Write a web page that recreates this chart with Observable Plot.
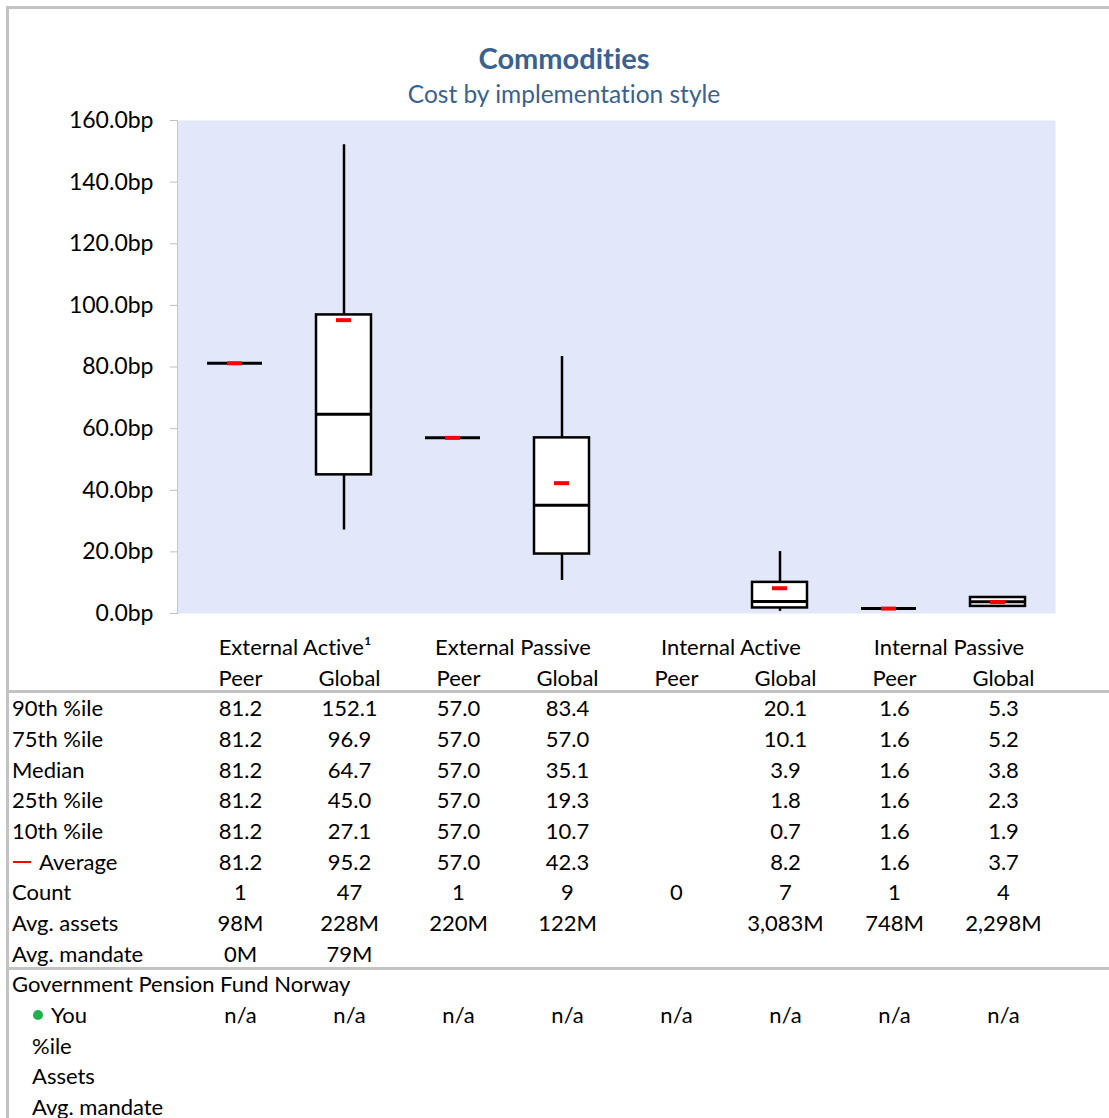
<!DOCTYPE html>
<html>
<head>
<meta charset="utf-8">
<script src="https://cdn.jsdelivr.net/npm/d3@7"></script>
<script src="https://cdn.jsdelivr.net/npm/@observablehq/plot@0.6"></script>
<style>
  html, body { margin: 0; padding: 0; background: #fff; }
  body { width: 1109px; height: 1118px; position: relative; overflow: hidden; font-family: Lato, "Open Sans", sans-serif; color: #000; font-variant-ligatures: none; }
  .border { position: absolute; left: 6px; top: 6px; width: 1200px; height: 1200px; border-left: 3px solid #c3c3c3; border-top: 3px solid #c3c3c3; }
  .hline { position: absolute; left: 9px; width: 1100px; height: 3px; background: #c3c3c3; }
  .t { position: absolute; white-space: nowrap; transform: translate(-50%, -50%); font-size: 22px; line-height: 26px; }
  .l { position: absolute; white-space: nowrap; transform: translate(0, -50%); font-size: 22px; line-height: 26px; }
  #title { position: absolute; left: 564px; top: 57px; transform: translate(-50%, -50%); font-size: 29px; font-weight: bold; color: #3a6190; white-space: nowrap; }
  #subtitle { position: absolute; left: 564px; top: 93px; transform: translate(-50%, -50%); font-size: 24.5px; color: #3a6190; white-space: nowrap; }
  #chart { position: absolute; left: 0; top: 0; }
  #table { position: absolute; left: 0; top: 0; }
</style>
</head>
<body>
<div class="border"></div>
<div id="title">Commodities</div>
<div id="subtitle">Cost by implementation style</div>
<div id="chart"></div>
<div id="table"></div>
<script>
// ---- data ----
const groups = ["External Active¹", "External Passive", "Internal Active", "Internal Passive"];
const subgroups = ["Peer", "Global"];
const categories = ["EA Peer", "EA Global", "EP Peer", "EP Global", "IA Peer", "IA Global", "IP Peer", "IP Global"];
const p90    = [81.2, 152.1, 57.0, 83.4, null, 20.1, 1.6, 5.3];
const p75    = [81.2, 96.9, 57.0, 57.0, null, 10.1, 1.6, 5.2];
const median = [81.2, 64.7, 57.0, 35.1, null, 3.9, 1.6, 3.8];
const p25    = [81.2, 45.0, 57.0, 19.3, null, 1.8, 1.6, 2.3];
const p10    = [81.2, 27.1, 57.0, 10.7, null, 0.7, 1.6, 1.9];
const average= [81.2, 95.2, 57.0, 42.3, null, 8.2, 1.6, 3.7];
const count  = ["1", "47", "1", "9", "0", "7", "1", "4"];
const avgAssets  = ["98M", "228M", "220M", "122M", "", "3,083M", "748M", "2,298M"];
const avgMandate = ["0M", "79M", "", "", "", "", "", ""];
const youValues  = ["n/a", "n/a", "n/a", "n/a", "n/a", "n/a", "n/a", "n/a"];
const yTicks = [0, 20, 40, 60, 80, 100, 120, 140, 160];
const fundName = "Government Pension Fund Norway";

const rows = categories.map((c, i) => ({
  cat: c, p90: p90[i], p75: p75[i], median: median[i], p25: p25[i], p10: p10[i], avg: average[i]
}));

const fmt = v => v == null ? "" : v.toFixed(1);

const plot = Plot.plot({
  width: 1109,
  height: 630,
  marginTop: 120,
  marginBottom: 17,
  marginLeft: 177,
  marginRight: 54,
  style: { fontFamily: "Lato, 'Open Sans', sans-serif", fontSize: "23px", color: "#000", background: "transparent", overflow: "visible" },
  x: { type: "band", domain: categories, padding: 0, axis: null },
  y: { domain: [0, 160], label: null, axis: null },
  marks: [
    Plot.frame({ fill: "#e2e8fa", stroke: null }),
    Plot.frame({ anchor: "left", stroke: "#c8c8c8" }),
    Plot.axisY({ ticks: yTicks, tickSize: 7, tickPadding: 17, stroke: "#bfbfbf", fill: "#000", fontSize: 23,
                 tickFormat: d => d.toFixed(1) + "bp", label: null }),
    Plot.ruleX(rows, { x: "cat", y1: "p10", y2: "p90", stroke: "#000", strokeWidth: 2.5 }),
    Plot.barY(rows, { x: "cat", y1: "p25", y2: "p75", fill: "#fff", stroke: "#000", strokeWidth: 2.5, insetLeft: 27, insetRight: 27 }),
    Plot.tickY(rows, { x: "cat", y: "median", stroke: "#000", strokeWidth: 3, insetLeft: 27, insetRight: 27 }),
    Plot.tickY(rows, { x: "cat", y: "avg", stroke: "#ff0000", strokeWidth: 4, insetLeft: 47, insetRight: 47 })
  ]
});
document.getElementById("chart").appendChild(plot);

// column centres from the plot's x scale
const xs = plot.scale("x");
const colX = categories.map((c, i) => {
  if (xs.apply) return xs.apply(c) + xs.bandwidth / 2 + 6;
  const [r0, r1] = xs.range; const bw = (r1 - r0) / categories.length;
  return r0 + bw * (i + 0.5) + 6;
});

const table = document.getElementById("table");
const rowY = i => 647 + i * 30.67;
function addText(cls, x, y, txt) {
  const d = document.createElement("div");
  d.className = cls;
  d.style.left = x + "px";
  d.style.top = y + "px";
  d.textContent = txt;
  table.appendChild(d);
  return d;
}
// headers
groups.forEach((g, gi) => addText("t", (colX[gi * 2] + colX[gi * 2 + 1]) / 2, rowY(0), g));
categories.forEach((c, i) => addText("t", colX[i], rowY(1), subgroups[i % 2]));

// separator lines
[690, 967].forEach(y => {
  const d = document.createElement("div"); d.className = "hline"; d.style.top = y + "px"; table.appendChild(d);
});

const statRows = [
  ["90th %ile", p90.map(fmt)],
  ["75th %ile", p75.map(fmt)],
  ["Median", median.map(fmt)],
  ["25th %ile", p25.map(fmt)],
  ["10th %ile", p10.map(fmt)],
  ["Average", average.map(fmt)],
  ["Count", count],
  ["Avg. assets", avgAssets],
  ["Avg. mandate", avgMandate]
];
statRows.forEach(([label, vals], r) => {
  const y = rowY(2 + r);
  if (label === "Average") {
    const dash = document.createElement("div");
    Object.assign(dash.style, { position: "absolute", left: "13px", top: (y - 1) + "px", width: "18px", height: "2.5px", background: "#ff0000" });
    table.appendChild(dash);
    addText("l", 39, y, label);
  } else {
    addText("l", 12, y, label);
  }
  vals.forEach((v, i) => { if (v !== "") addText("t", colX[i], y, v); });
});

addText("l", 12, rowY(11), fundName);
const dot = document.createElement("div");
Object.assign(dot.style, { position: "absolute", left: "33px", top: (rowY(12) - 5) + "px", width: "10px", height: "10px", borderRadius: "50%", background: "#1fb050" });
table.appendChild(dot);
addText("l", 51, rowY(12), "You");
youValues.forEach((v, i) => addText("t", colX[i], rowY(12), v));
addText("l", 32, rowY(13), "%ile");
addText("l", 32, rowY(14), "Assets");
addText("l", 32, rowY(15), "Avg. mandate");
</script>
</body>
</html>
